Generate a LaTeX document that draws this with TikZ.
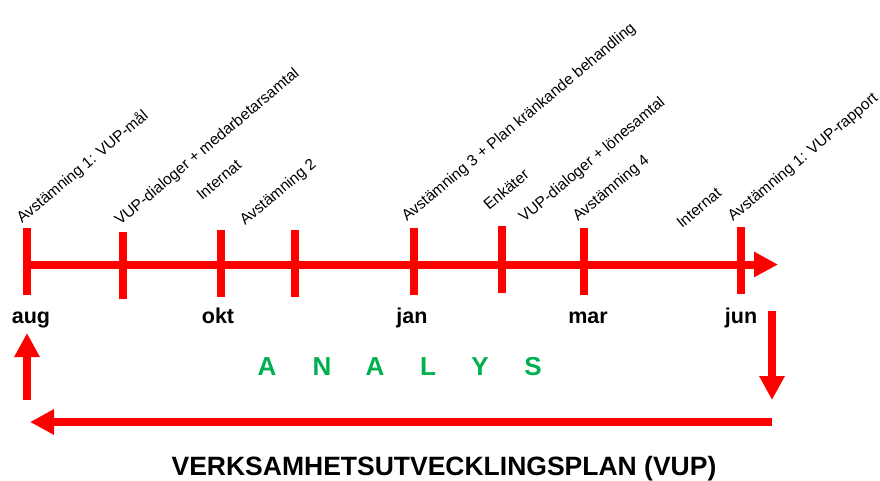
\documentclass[tikz,border=0pt]{standalone}
\usepackage{fontspec}
\setmainfont{Liberation Sans}
\usetikzlibrary{arrows.meta}
\definecolor{vred}{RGB}{255,0,0}
\definecolor{vgreen}{RGB}{0,176,80}
\begin{document}
\begin{tikzpicture}[x=1pt,y=-1pt,
  redline/.style={draw=vred, line width=8pt},
  bigarrow/.style={redline, -{Triangle[length=24pt,width=24pt]}},
  ticklbl/.style={font=\fontsize{15.5}{18}\selectfont, rotate=40, anchor=base west, inner sep=0pt, text=black},
  month/.style={font=\bfseries\fontsize{21.5}{24}\selectfont, anchor=base, inner sep=0pt},
  analys/.style={font=\bfseries\fontsize{26}{30}\selectfont, text=vgreen, anchor=base, inner sep=0pt},
  title/.style={font=\bfseries\fontsize{26.5}{30}\selectfont, anchor=base, inner sep=0pt},
]
\useasboundingbox (0,0) rectangle (880,480);
% timeline
\coordinate (axS) at (27,264.5);
\coordinate (axE) at (778,264.5);
\draw[bigarrow] (axS) -- (axE);
% ticks
\foreach \n/\x/\t/\b in {t1/27/228/295, t2/123/232/299, t3/221/230/297, t4/295/230/297,
                         t5/414/228/295, t6/502/226/293, t7/584/228/295, t8/741/227/294}{
  \coordinate (\n top) at (\x,\t);
  \coordinate (\n bot) at (\x,\b);
  \draw[redline] (\n top) -- (\n bot);
}
% event labels
\node[ticklbl] (l1) at (22,224) {Avstämning 1: VUP-mål};
\node[ticklbl] (l2) at (120,226) {VUP-dialoger + medarbetarsamtal};
\node[ticklbl] (l3) at (202,201) {Internat};
\node[ticklbl] (l4) at (245,226) {Avstämning 2};
\node[ticklbl] (l5) at (407,222) {Avstämning 3 + Plan kränkande behandling};
\node[ticklbl] (l6) at (489,211) {Enkäter};
\node[ticklbl] (l7) at (524,223) {VUP-dialoger + lönesamtal};
\node[ticklbl] (l8) at (578,222) {Avstämning 4};
\node[ticklbl] (l9) at (682,229) {Internat};
\node[ticklbl] (l10) at (733,222) {Avstämning 1: VUP-rapport};
% months
\node[month] (aug) at (31,323) {aug};
\node[month] (okt) at (218,323) {okt};
\node[month] (jan) at (412,323) {jan};
\node[month] (mar) at (588,323) {mar};
\node[month] (jun) at (741,323) {jun};
% ANALYS
\node[analys] (a1) at (267,375) {A};
\node[analys] (a2) at (322,375) {N};
\node[analys] (a3) at (375,375) {A};
\node[analys] (a4) at (428,375) {L};
\node[analys] (a5) at (480,375) {Y};
\node[analys] (a6) at (533,375) {S};
% return loop
\coordinate (dS) at (772,311);
\coordinate (dE) at (772,400);
\coordinate (bS) at (772,422);
\coordinate (bE) at (30,422);
\coordinate (uS) at (27,400);
\coordinate (uE) at (27,333);
\draw[bigarrow] (dS) -- (dE);
\draw[bigarrow] (bS) -- (bE);
\draw[bigarrow] (uS) -- (uE);
% title
\node[title] (vup) at (444,475) {VERKSAMHETSUTVECKLINGSPLAN (VUP)};
\end{tikzpicture}
\end{document}
